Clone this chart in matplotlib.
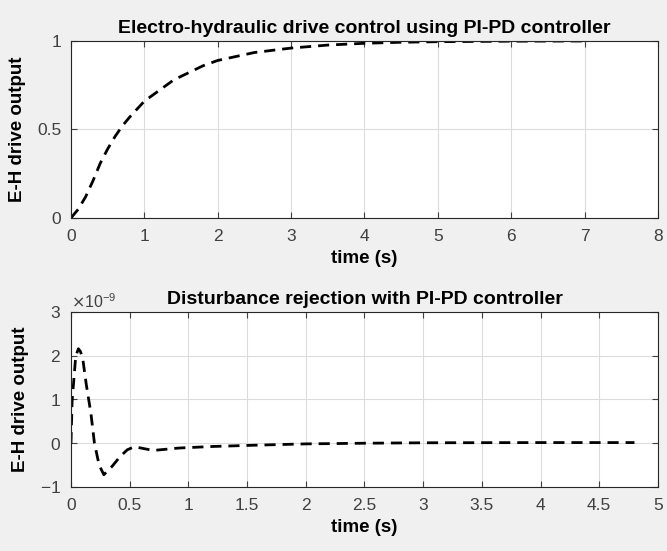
import matplotlib.pyplot as plt
import numpy as np
from matplotlib.ticker import ScalarFormatter

# step response of the electro-hydraulic drive
t_step = [0, 0.1, 0.2, 0.3, 0.4, 0.5, 0.6, 0.7, 0.8, 1.0, 1.2, 1.4, 1.6, 1.8,
          2.0, 2.5, 3.0, 3.5, 4.0, 4.5, 5.0, 6.0, 7.0]
y_step = [0, 0.05, 0.12, 0.21, 0.31, 0.39, 0.46, 0.52, 0.57, 0.66, 0.72, 0.78,
          0.82, 0.86, 0.89, 0.935, 0.96, 0.977, 0.987, 0.993, 0.996, 0.999, 1.0]

# disturbance response, in units of 1e-9
t_dist = [0, 0.01, 0.026, 0.04, 0.063, 0.08, 0.1, 0.13, 0.17, 0.2, 0.24, 0.28,
          0.35, 0.42, 0.48, 0.54, 0.7, 0.92, 1.2, 1.57, 2.0, 2.5, 3.0, 4.0, 4.8]
y_dist = [0, 0.98, 1.5, 1.98, 2.16, 2.1, 1.94, 1.35, 0.68, 0.0, -0.5, -0.72,
          -0.53, -0.3, -0.15, -0.08, -0.165, -0.11, -0.075, -0.045, -0.015,
          0.0, 0.01, 0.015, 0.015]
dist_scale = 1e-9

plt.rcParams['font.family'] = ['Liberation Sans', 'DejaVu Sans']
plt.rcParams['axes.unicode_minus'] = False

fig = plt.figure(figsize=(6.67, 5.51), dpi=100, facecolor='#f0f0f0')
ax1 = fig.add_axes([0.1064, 0.6044, 0.88, 0.3212])
ax2 = fig.add_axes([0.1064, 0.1162, 0.88, 0.3176])

ax1.plot(t_step, y_step, color='black', linestyle='--', linewidth=2, dashes=(4, 2.5))
ax2.plot(t_dist, np.array(y_dist) * dist_scale, color='black', linestyle='--',
         linewidth=2, dashes=(4, 2.5))

ax1.set_xlim(0, 8)
ax1.set_ylim(0, 1)
ax1.set_xticks(range(0, 9))
ax1.set_yticks([0, 0.5, 1])
ax1.set_yticklabels(['0', '0.5', '1'])

ax2.set_xlim(0, 5)
ax2.set_ylim(-1e-9, 3e-9)
ax2.set_xticks(np.arange(0, 5.01, 0.5))
ax2.set_xticklabels(['0', '0.5', '1', '1.5', '2', '2.5', '3', '3.5', '4', '4.5', '5'])
ax2.set_yticks([-1e-9, 0, 1e-9, 2e-9, 3e-9])
fmt = ScalarFormatter(useMathText=True)
fmt.set_powerlimits((-3, 3))
ax2.yaxis.set_major_formatter(fmt)

titles = ['Electro-hydraulic drive control using PI-PD controller',
          'Disturbance rejection with PI-PD controller']
for ax, title in zip([ax1, ax2], titles):
    ax.set_facecolor('white')
    ax.grid(True, color='#dcdcdc', linewidth=0.8)
    ax.set_axisbelow(True)
    ax.tick_params(direction='in', top=True, right=True, length=4,
                   labelsize=12.5, colors='#404040')
    ax.tick_params(axis='x', pad=8)
    ax.tick_params(axis='y', pad=7)
    for s in ax.spines.values():
        s.set_color('#262626')
        s.set_linewidth(0.8)
    ax.set_title(title, fontsize=14, fontweight='bold', pad=6)
    ax.set_xlabel('time (s)', fontsize=13.5, fontweight='bold', labelpad=4)
    ax.set_ylabel('E-H drive output', fontsize=13.5, fontweight='bold', labelpad=8)

ax2.yaxis.get_offset_text().set_fontsize(11.5)
ax2.yaxis.get_offset_text().set_color('#404040')

plt.savefig('out.png', dpi=100, facecolor=fig.get_facecolor())
